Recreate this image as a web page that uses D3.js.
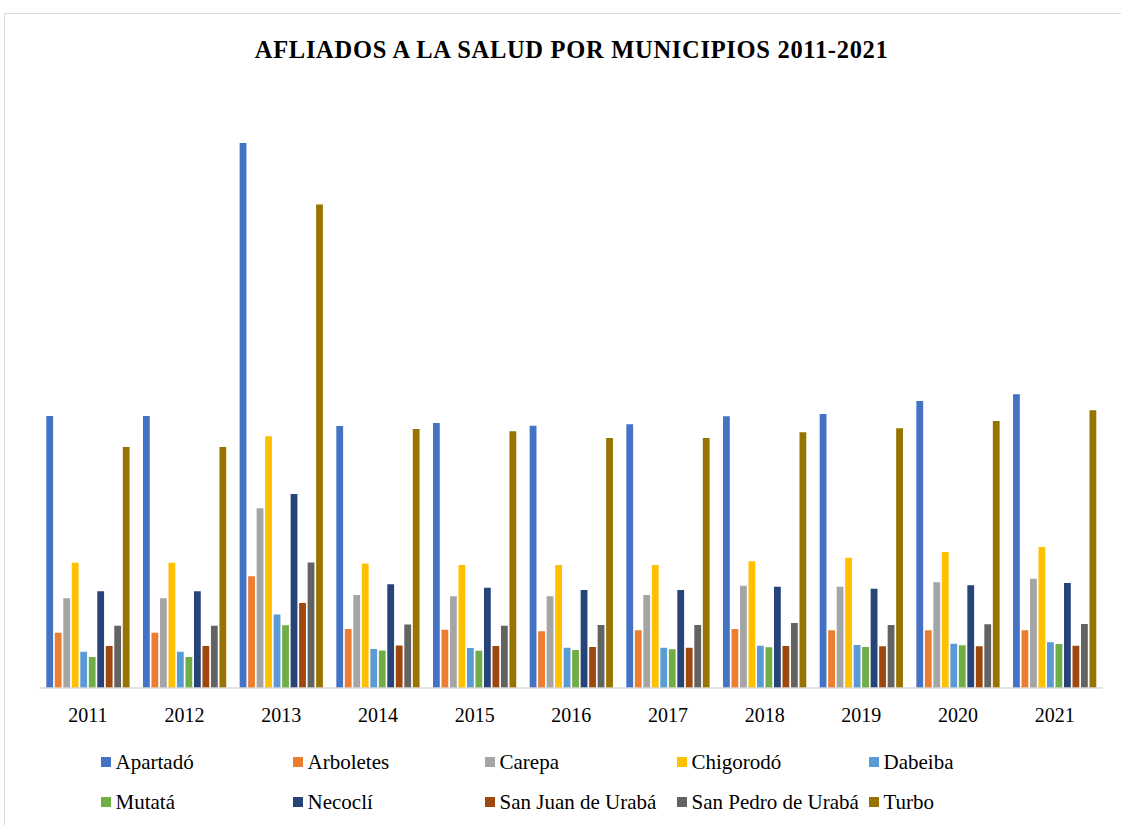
<!DOCTYPE html>
<html>
<head>
<meta charset="utf-8">
<script src="https://cdn.jsdelivr.net/npm/d3@7"></script>
<style>
  body { margin: 0; background: #fff; }
  svg { display: block; }
</style>
</head>
<body>
<svg id="chart" width="1121" height="825"></svg>
<script>
// ---- data ----
const years = ["2011","2012","2013","2014","2015","2016","2017","2018","2019","2020","2021"];
const municipios = ["Apartadó","Arboletes","Carepa","Chigorodó","Dabeiba","Mutatá","Necoclí","San Juan de Urabá","San Pedro de Urabá","Turbo"];
const colors = ["#4472C4","#ED7D31","#A5A5A5","#FFC000","#5B9BD5","#70AD47","#264478","#9E480E","#636363","#997300"];

const apartado   = [108800,108800,218000,104800,106000,104900,105500,108700,109600,114800,117500];
const arboletes  = [22100,22100,44700,23600,23300,22700,23100,23600,23100,23100,23100];
const carepa     = [35900,35900,71900,37200,36700,36700,37200,40900,40500,42300,43700];
const chigorodo  = [50100,50100,100700,49800,49200,49200,49200,50700,52100,54400,56400];
const dabeiba    = [14500,14500,29400,15600,16000,16100,16100,16900,17200,17700,18300];
const mutata     = [12400,12400,25100,15000,14900,15200,15500,16300,16400,17100,17600];
const necocli    = [38700,38700,77600,41500,40100,39200,39200,40500,39700,41100,42000];
const sanJuan    = [16800,16800,34000,17000,16800,16400,16100,16800,16700,16700,16900];
const sanPedro   = [24900,24900,50200,25400,24900,25200,25200,26000,25200,25500,25600];
const turbo      = [96400,96400,193400,103600,102700,100000,100000,102300,103900,106800,111100];

const series = [apartado, arboletes, carepa, chigorodo, dabeiba, mutata, necocli, sanJuan, sanPedro, turbo];
const title = "AFLIADOS A LA SALUD POR MUNICIPIOS 2011-2021";

// ---- layout ----
const svg = d3.select("#chart");
const plot = { left: 39.6, right: 1103, top: 63, bottom: 688 };
const serif = "Liberation Serif";

// outer chart frame
svg.append("rect")
  .attr("x", 4.5).attr("y", 13.5)
  .attr("width", 1140).attr("height", 840)
  .attr("fill", "#fff").attr("stroke", "#d9d9d9").attr("stroke-width", 1);

// title
svg.append("text")
  .attr("x", (plot.left + plot.right) / 2).attr("y", 58)
  .attr("text-anchor", "middle")
  .attr("textLength", 633).attr("lengthAdjust", "spacing")
  .style("font-family", serif).style("font-weight", "bold").style("font-size", "24.5px")
  .attr("fill", "#000")
  .text(title);

const x0 = d3.scaleBand().domain(years).range([plot.left, plot.right]).paddingInner(0).paddingOuter(0);
const x1 = d3.scaleBand().domain(municipios)
  .range([6.7, x0.bandwidth() - 6.7]).paddingInner(0.2).paddingOuter(0);
const y = d3.scaleLinear().domain([0, 250000]).range([plot.bottom, plot.top]);

// bars
const groups = svg.append("g").selectAll("g")
  .data(years)
  .join("g")
  .attr("transform", d => `translate(${x0(d)},0)`);

groups.selectAll("rect")
  .data((yr, i) => municipios.map((m, k) => ({ m, k, v: series[k][i] })))
  .join("rect")
  .attr("x", d => x1(d.m))
  .attr("width", x1.bandwidth())
  .attr("y", d => y(d.v))
  .attr("height", d => plot.bottom - y(d.v))
  .attr("fill", d => colors[d.k]);

// x axis
const xAxis = svg.append("g")
  .attr("transform", `translate(0,${plot.bottom})`)
  .call(d3.axisBottom(x0).tickSize(0).tickPadding(0));
xAxis.attr("font-family", null);
xAxis.select(".domain").attr("stroke", "#d9d9d9").attr("stroke-width", 1.5)
  .attr("d", `M${plot.left},0H${plot.right}`);
xAxis.selectAll(".tick text")
  .style("font-family", serif).style("font-size", "20px").attr("fill", "#000")
  .attr("dy", 0).attr("y", 34);

// legend
const legend = svg.append("g");
const cols = 5, colStep = 192, rowStep = 40;
const items = legend.selectAll("g")
  .data(municipios)
  .join("g")
  .attr("transform", (d, i) => `translate(${101 + (i % cols) * colStep},${757 + Math.floor(i / cols) * rowStep})`);
items.append("rect")
  .attr("width", 10).attr("height", 10)
  .attr("fill", (d, i) => colors[i]);
items.append("text")
  .attr("x", 14.5).attr("y", 11.5)
  .style("font-family", serif).style("font-size", "21px").attr("fill", "#000")
  .text(d => d);
</script>
</body>
</html>
